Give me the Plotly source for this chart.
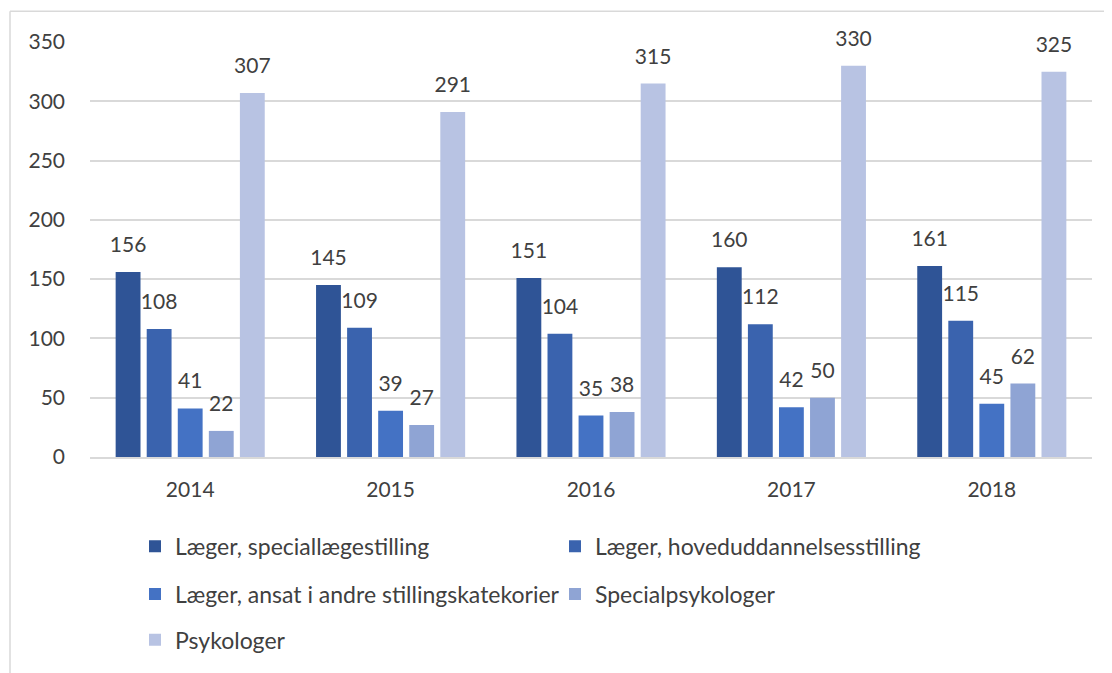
import plotly.graph_objects as go

years = ["2014", "2015", "2016", "2017", "2018"]
series_names = [
    "Læger, speciallægestilling",
    "Læger, hoveduddannelsesstilling",
    "Læger, ansat i andre stillingskatekorier",
    "Specialpsykologer",
    "Psykologer",
]
special = [156, 145, 151, 160, 161]
hoved = [108, 109, 104, 112, 115]
andre = [41, 39, 35, 42, 45]
specialpsyk = [22, 27, 38, 50, 62]
psyk = [307, 291, 315, 330, 325]
values = [special, hoved, andre, specialpsyk, psyk]
colors = ["#2F5496", "#3A63AE", "#4472C4", "#8FA4D4", "#B8C3E3"]
legend_ids = ["legend", "legend", "legend2", "legend2", "legend3"]

FONT = "Lato"
TXT = "#404040"

fig = go.Figure()
for name, vals, col, lg in zip(series_names, values, colors, legend_ids):
    fig.add_trace(go.Bar(
        x=years, y=vals, name=name, marker_color=col, marker_line_width=0,
        texttemplate="<span style='font-size:21px'>%{y}</span><br> ",
        textposition="outside", constraintext="none",
        textfont=dict(family=FONT, size=11.5, color=TXT),
        cliponaxis=False, legend=lg, hoverinfo="x+y+name",
    ))

# page body has an 8px offset; figure sized to fill the rest of the window
OFF = 8
W, H = 1112 - OFF, 673 - OFF
L, R, T, B = 90 - OFF, 20, 42 - OFF, 213
pw = W - L - R
ph = H - T - B

def px_x(px):
    return (px - OFF - L) / pw

def px_y(py):
    return (H - B - (py - OFF)) / ph

leg_common = dict(orientation="h", font=dict(family=FONT, size=23, color=TXT),
                  entrywidth=375, entrywidthmode="pixels", xanchor="left",
                  yanchor="middle", bgcolor="rgba(0,0,0,0)", itemclick=False)

fig.update_layout(
    width=W, height=H,
    margin=dict(l=L, r=R, t=T, b=B),
    paper_bgcolor="white", plot_bgcolor="white",
    barmode="group", bargap=0.225, bargroupgap=0.2,
    font=dict(family=FONT, color=TXT),
    xaxis=dict(showgrid=False, showline=True, linecolor="#D9D9D9", linewidth=1.5,
               tickfont=dict(family=FONT, size=21, color=TXT), ticks="",
               ticklabelstandoff=13, fixedrange=True),
    yaxis=dict(range=[0, 350], dtick=50, showgrid=True, gridcolor="#D9D9D9",
               gridwidth=1.5, zeroline=False, showline=False,
               tickfont=dict(family=FONT, size=21, color=TXT),
               ticklabelstandoff=24, fixedrange=True),
    legend=dict(x=px_x(135), y=px_y(550), **leg_common),
    legend2=dict(x=px_x(135), y=px_y(598), **leg_common),
    legend3=dict(x=px_x(135), y=px_y(644), **leg_common),
    showlegend=True,
    shapes=[
        dict(type="line", xref="paper", yref="paper", x0=px_x(10), x1=px_x(1200),
             y0=px_y(11), y1=px_y(11), line=dict(color="#D9D9D9", width=1.5)),
        dict(type="line", xref="paper", yref="paper", x0=px_x(10), x1=px_x(10),
             y0=px_y(11), y1=px_y(700), line=dict(color="#D9D9D9", width=1.5)),
    ],
)

fig.write_html("out.html")
